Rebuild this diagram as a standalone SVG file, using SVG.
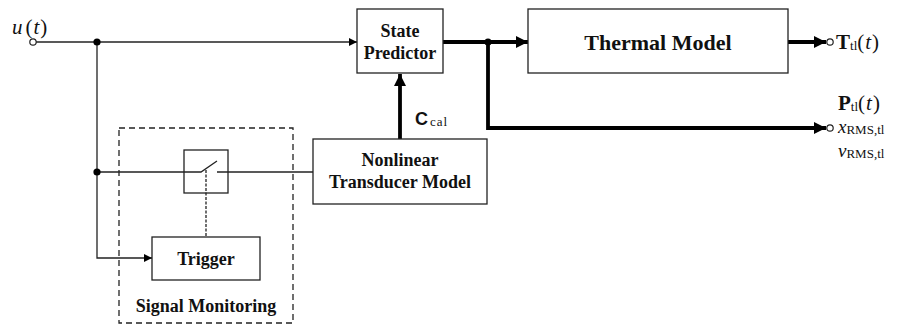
<svg xmlns="http://www.w3.org/2000/svg" width="906" height="325" viewBox="0 0 906 325">
<defs>
<marker id="a" viewBox="0 0 10 10" refX="10" refY="5" markerWidth="10" markerHeight="8" markerUnits="userSpaceOnUse" orient="auto"><path d="M0,0 L10,5 L0,10 Z" fill="#000"/></marker>
<marker id="ab" viewBox="0 0 10 10" refX="10" refY="5" markerWidth="14" markerHeight="12" markerUnits="userSpaceOnUse" orient="auto"><path d="M0,0 L10,5 L0,10 Z" fill="#000"/></marker>
</defs>
<style>
.box{fill:#fff;stroke:#222;stroke-width:1.3}
.t{font-family:"Liberation Serif",serif;font-weight:bold;font-size:18px;fill:#111;text-anchor:middle}
.thin{fill:none;stroke:#222;stroke-width:1.3}
.thick{fill:none;stroke:#000;stroke-width:3.8}
.m{font-family:"Liberation Serif",serif;fill:#111}
.it{font-style:italic}
.dot{fill:#000}
.oc{fill:#fff;stroke:#222;stroke-width:1.2}
</style>
<rect width="906" height="325" fill="#fff"/>
<g id="connectors">
<path class="thin" d="M36,42 H357" marker-end="url(#a)"/>
<path class="thin" d="M97,42 V258 H152" marker-end="url(#a)"/>
<path class="thin" d="M97,172 H201 L217,161"/>
<path class="thin" d="M217,172 H313"/>
<path class="thin" d="M206,170 V237" stroke-dasharray="3,1.5"/>
<path class="thick" d="M400,139 V74" marker-end="url(#ab)"/>
<path class="thick" d="M443,42 H528" marker-end="url(#ab)"/>
<path class="thick" d="M488,42 V128 H826" marker-end="url(#ab)"/>
<path class="thick" d="M788,42 H826" marker-end="url(#ab)"/>
<circle class="dot" cx="97" cy="42" r="3.6"/>
<circle class="dot" cx="97" cy="172" r="3.6"/>
<circle class="dot" cx="488" cy="42" r="3.6"/>
<circle class="oc" cx="33" cy="42" r="3.2"/>
<circle class="oc" cx="830" cy="42" r="3.2"/>
<circle class="oc" cx="830" cy="128" r="3.2"/>
</g>
<g id="signal-monitoring">
<rect x="119" y="128" width="174" height="195" fill="none" stroke="#222" stroke-width="1.3" stroke-dasharray="6,4"/>
<text class="t" x="206" y="312">Signal Monitoring</text>
</g>
<g id="switch">
<rect x="184" y="150" width="44" height="43" fill="none" stroke="#222" stroke-width="1.3"/>
</g>
<g id="trigger">
<rect class="box" x="152" y="237" width="108" height="43"/>
<text class="t" x="206" y="265">Trigger</text>
</g>
<g id="state-predictor">
<rect class="box" x="357" y="9" width="86" height="64"/>
<text class="t" x="400" y="37">State</text>
<text class="t" x="400" y="59">Predictor</text>
</g>
<g id="nonlinear-transducer-model">
<rect class="box" x="313" y="139" width="174" height="65"/>
<text class="t" x="400" y="166">Nonlinear</text>
<text class="t" x="400" y="188">Transducer Model</text>
</g>
<g id="thermal-model">
<rect class="box" x="528" y="9" width="260" height="64"/>
<text class="t" x="658" y="50" style="font-size:22px">Thermal Model</text>
</g>
<g id="labels">
<text class="m" x="12" y="34" style="font-size:21px"><tspan class="it">u</tspan><tspan dx="3">(</tspan><tspan class="it" dx="1">t</tspan><tspan dx="1">)</tspan></text>
<text x="415" y="125" style="font-family:'Liberation Sans',sans-serif;font-weight:bold;font-size:18px;fill:#111">C<tspan style="font-family:'Liberation Serif',serif;font-weight:normal;font-size:13px" dx="2" dy="1" letter-spacing="1">cal</tspan></text>
<text class="m" x="836" y="49" style="font-size:21px"><tspan font-weight="bold">T</tspan><tspan style="font-size:13px" dy="1">tl</tspan><tspan dy="-1">(</tspan><tspan class="it" dx="1">t</tspan><tspan dx="1">)</tspan></text>
<text class="m" x="838" y="110" style="font-size:21px"><tspan font-weight="bold">P</tspan><tspan style="font-size:13px" dy="1">tl</tspan><tspan dy="-1">(</tspan><tspan class="it" dx="1">t</tspan><tspan dx="1">)</tspan></text>
<text class="m" x="838" y="133" style="font-size:19px"><tspan class="it">x</tspan><tspan style="font-size:13px" dy="1">RMS,tl</tspan></text>
<text class="m" x="838" y="157" style="font-size:19px"><tspan class="it">v</tspan><tspan style="font-size:13px" dy="1">RMS,tl</tspan></text>
</g>
</svg>
